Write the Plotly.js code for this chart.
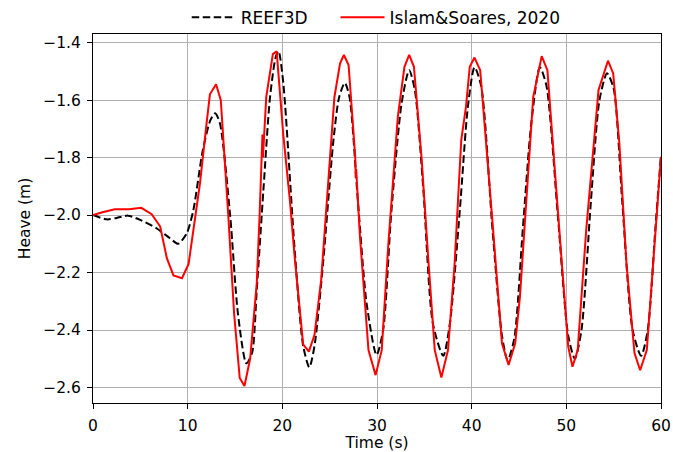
<!DOCTYPE html>
<html>
<head>
<meta charset="utf-8">
<script src="https://cdn.plot.ly/plotly-3.0.1.min.js"></script>
<style>html,body{margin:0;padding:0;background:#fff;}#chart{width:673px;height:452px;}</style>
</head>
<body>
<div id="chart"></div>
<script>
// REEF3D (black dashed)
const reefTime = [0, 1.45, 2.5, 3.7, 5.0, 6.7, 8.1, 9.0, 9.9, 10.6, 11.6, 12.4, 12.9, 13.4, 14.5, 15.3, 16.2, 16.8, 17.3, 18.0, 18.7, 19.3, 19.6, 20.1, 21.3, 22.2, 22.85, 23.4, 24.3, 25.4, 26.0, 26.6, 27.1, 28.0, 28.9, 29.95, 30.65, 31.5, 32.6, 33.4, 34.0, 34.9, 35.9, 37.0, 37.7, 38.75, 39.6, 40.3, 41.0, 42.2, 43.2, 43.8, 44.5, 45.4, 46.3, 47.2, 47.9, 49.1, 50.2, 50.9, 51.6, 52.6, 53.5, 54.3, 55.0, 55.9, 57.0, 57.9, 58.6, 59.4, 60];
const reefHeave = [-2.0, -2.015, -2.01, -2.002, -2.017, -2.046, -2.08, -2.10, -2.064, -1.983, -1.774, -1.67, -1.646, -1.68, -2.006, -2.34, -2.516, -2.48, -2.26, -1.913, -1.59, -1.45, -1.43, -1.54, -2.12, -2.455, -2.53, -2.455, -2.168, -1.739, -1.59, -1.54, -1.59, -1.96, -2.307, -2.487, -2.40, -1.994, -1.611, -1.496, -1.565, -1.913, -2.377, -2.49, -2.377, -1.983, -1.623, -1.486, -1.55, -2.05, -2.42, -2.505, -2.43, -2.05, -1.68, -1.486, -1.55, -2.0, -2.42, -2.50, -2.40, -1.95, -1.60, -1.507, -1.56, -1.95, -2.40, -2.49, -2.40, -2.05, -1.79];

// Islam & Soares, 2020 (red solid)
const islamTime = [0, 1.0, 2.3, 3.8, 5.1, 6.2, 7.1, 7.8, 8.5, 9.4, 10.1, 10.6, 11.3, 12.0, 12.35, 13.0, 13.5, 14.3, 14.9, 15.5, 16.0, 16.6, 17.3, 17.6, 17.85, 17.9, 17.95, 18.3, 19.0, 19.4, 20.1, 20.8, 21.3, 22.2, 22.8, 23.4, 24.1, 24.9, 25.5, 26.1, 26.5, 27.0, 27.7, 27.75, 27.8, 28.2, 29.1, 29.85, 30.5, 31.2, 32.2, 32.9, 33.4, 33.9, 34.7, 35.4, 36.1, 36.8, 37.5, 38.2, 38.9, 39.4, 39.8, 40.3, 40.9, 42.1, 43.2, 43.9, 44.6, 45.1, 46.0, 46.5, 47.4, 48.0, 49.1, 50.2, 50.65, 51.2, 52.1, 53.4, 54.4, 54.95, 55.6, 56.35, 57.2, 57.8, 58.5, 59.2, 60];
const islamHeave = [-2.0, -1.99, -1.98, -1.98, -1.975, -1.997, -2.04, -2.15, -2.21, -2.22, -2.17, -2.05, -1.89, -1.68, -1.58, -1.545, -1.60, -2.006, -2.34, -2.567, -2.595, -2.50, -2.237, -2.0, -1.80, -1.72, -1.80, -1.59, -1.44, -1.43, -1.72, -1.95, -2.145, -2.45, -2.475, -2.417, -2.226, -1.855, -1.59, -1.472, -1.443, -1.478, -1.797, -1.87, -1.84, -2.075, -2.47, -2.557, -2.47, -2.10, -1.658, -1.484, -1.443, -1.484, -1.797, -2.145, -2.47, -2.565, -2.47, -2.168, -1.739, -1.623, -1.484, -1.452, -1.496, -1.983, -2.446, -2.522, -2.446, -2.284, -1.82, -1.59, -1.447, -1.496, -1.983, -2.458, -2.528, -2.47, -2.052, -1.565, -1.463, -1.507, -1.75, -2.168, -2.48, -2.54, -2.47, -2.145, -1.797];

const xTicks = [0, 10, 20, 30, 40, 50, 60];
const yTicks = [-2.6, -2.4, -2.2, -2.0, -1.8, -1.6, -1.4];
const yTickLabels = ['\u22122.6', '\u22122.4', '\u22122.2', '\u22122.0', '\u22121.8', '\u22121.6', '\u22121.4'];

const FONT = 'DejaVu Sans, sans-serif';
const FS = 15.5;

const traces = [
  {x: reefTime, y: reefHeave, type: 'scatter', mode: 'lines', name: 'REEF3D', legend: 'legend',
   line: {color: '#000000', width: 2, dash: '7.5px,3.5px', shape: 'spline', smoothing: 0.7}},
  {x: islamTime, y: islamHeave, type: 'scatter', mode: 'lines', name: 'Islam&Soares, 2020', legend: 'legend2',
   line: {color: '#ff0000', width: 2}}
];

const legendBase = {orientation: 'h', xanchor: 'left', y: 1.044, yanchor: 'middle',
  font: {family: FONT, size: 17}, bgcolor: 'rgba(0,0,0,0)', itemwidth: 44, borderwidth: 0};

const layout = {
  width: 673, height: 452,
  margin: {l: 93, r: 12, t: 34, b: 49, autoexpand: false},
  paper_bgcolor: '#ffffff', plot_bgcolor: '#ffffff',
  font: {family: FONT, size: FS, color: '#000'},
  showlegend: true,
  legend: Object.assign({}, legendBase, {x: 0.165}),
  legend2: Object.assign({}, legendBase, {x: 0.427}),
  xaxis: {range: [0, 60], tickvals: xTicks, ticktext: xTicks.map(String), showgrid: true, gridcolor: '#b0b0b0', gridwidth: 1,
          zeroline: false, showline: true, linecolor: '#000', linewidth: 1, mirror: true,
          ticks: 'outside', ticklen: 5, tickcolor: '#000', tickfont: {family: FONT, size: FS}, ticklabelstandoff: 3,
          title: {text: 'Time (s)', font: {family: FONT, size: FS}, standoff: 6}},
  yaxis: {range: [-2.654, -1.370], tickvals: yTicks, ticktext: yTickLabels, showgrid: true, gridcolor: '#b0b0b0', gridwidth: 1,
          zeroline: false, showline: true, linecolor: '#000', linewidth: 1, mirror: true,
          ticks: 'outside', ticklen: 5, tickcolor: '#000', tickfont: {family: FONT, size: FS}, ticklabelstandoff: 3,
          title: {text: 'Heave (m)', font: {family: FONT, size: FS}, standoff: 8}}
};

Plotly.newPlot('chart', traces, layout, {displayModeBar: false, staticPlot: true});
</script>
</body>
</html>
